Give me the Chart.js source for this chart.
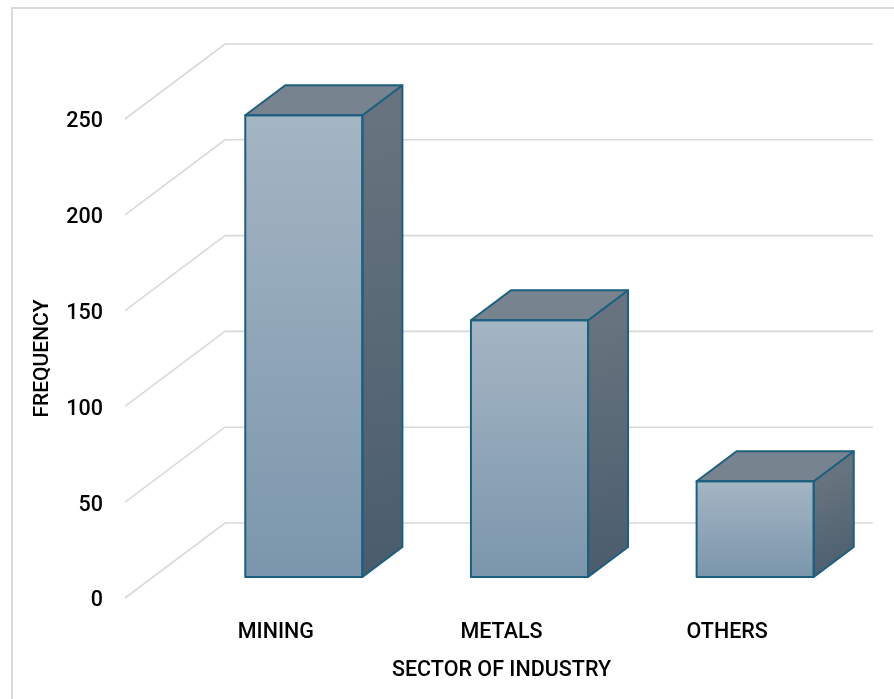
<!DOCTYPE html>
<html>
<head>
<meta charset="utf-8">
<script src="https://cdn.jsdelivr.net/npm/chart.js@4/dist/chart.umd.min.js"></script>
<style>
  html, body { margin: 0; padding: 0; background: #ffffff; overflow: hidden; }
  #wrap { position: relative; width: 894px; height: 699px; }
  #frame { position: absolute; left: 11px; top: 7px; width: 900px; height: 720px;
           border: 2px solid #d9d9d9; box-sizing: border-box; }
  canvas { position: absolute; left: 0; top: 0; }
</style>
</head>
<body>
<div id="wrap">
  <div id="frame"></div>
  <canvas id="c" width="894" height="699"></canvas>
</div>
<script>
// ---- data ----
const categories = ['MINING', 'METALS', 'OTHERS'];
const frequency = [241, 134, 50];
const yTicks = [0, 50, 100, 150, 200, 250];
const xTitle = 'SECTOR OF INDUSTRY';
const yTitle = 'FREQUENCY';

// ---- styling constants (3D look) ----
const FONT = 'Roboto, "Liberation Sans", Arial, sans-serif';
const WALL = { dx: 100, dy: -75, frontInset: 38, color: '#d9d9d9' };
const BARSHIFT = { dx: 28, dy: -21 };
const BARDEPTH = { dx: 40, dy: -30 };
const OUTLINE = '#1d5f7f';

function frontGradient(ctx) {
  const chart = ctx.chart;
  const area = chart.chartArea;
  if (!area) return '#8fa5b8';
  const ys = chart.scales.y;
  const top = ys.getPixelForValue(ctx.raw);
  const bot = ys.getPixelForValue(0);
  const g = chart.ctx.createLinearGradient(0, top, 0, bot);
  g.addColorStop(0, '#a4b5c3');
  g.addColorStop(0.5, '#90a6b8');
  g.addColorStop(1, '#7b96ac');
  return g;
}

const wallPlugin = {
  id: 'wall3d',
  beforeDatasetsDraw(chart) {
    const { ctx, chartArea, scales } = chart;
    const ys = scales.y;
    const xFront = chartArea.left - WALL.frontInset;
    const xBack = xFront + WALL.dx;
    const xRight = chartArea.right + 33;
    ctx.save();
    ctx.strokeStyle = WALL.color;
    ctx.lineWidth = 1.6;
    yTicks.forEach(v => {
      const y = ys.getPixelForValue(v);
      ctx.beginPath();
      ctx.moveTo(xFront, y);
      ctx.lineTo(xBack, y + WALL.dy);
      ctx.lineTo(xRight, y + WALL.dy);
      ctx.stroke();
    });
    ctx.restore();
  },
  beforeDatasetDraw(chart) {
    chart.ctx.save();
    chart.ctx.translate(BARSHIFT.dx, BARSHIFT.dy);
  },
  afterDatasetDraw(chart) {
    chart.ctx.restore();
  },
  afterDatasetsDraw(chart) {
    const { ctx } = chart;
    const meta = chart.getDatasetMeta(0);
    ctx.save();
    ctx.lineJoin = 'round';
    meta.data.forEach(bar => {
      const p = bar.getProps(['x', 'y', 'base', 'width'], true);
      const l = p.x - p.width / 2 + BARSHIFT.dx;
      const r = p.x + p.width / 2 + BARSHIFT.dx;
      const t = p.y + BARSHIFT.dy;
      const b = p.base + BARSHIFT.dy;
      const ddx = BARDEPTH.dx, ddy = BARDEPTH.dy;
      // side face
      const sg = ctx.createLinearGradient(r, t, r + ddx, b);
      sg.addColorStop(0, '#67747f');
      sg.addColorStop(1, '#4a5c6c');
      ctx.beginPath();
      ctx.moveTo(r, t);
      ctx.lineTo(r + ddx, t + ddy);
      ctx.lineTo(r + ddx, b + ddy);
      ctx.lineTo(r, b);
      ctx.closePath();
      ctx.fillStyle = sg;
      ctx.fill();
      ctx.strokeStyle = OUTLINE;
      ctx.lineWidth = 2;
      ctx.stroke();
      // top face
      ctx.beginPath();
      ctx.moveTo(l, t);
      ctx.lineTo(l + ddx, t + ddy);
      ctx.lineTo(r + ddx, t + ddy);
      ctx.lineTo(r, t);
      ctx.closePath();
      ctx.fillStyle = '#77838e';
      ctx.fill();
      ctx.stroke();
      // front outline
      ctx.strokeRect(l, t, r - l, b - t);
    });
    ctx.restore();
  }
};

new Chart(document.getElementById('c'), {
  type: 'bar',
  data: {
    labels: categories,
    datasets: [{
      data: frequency,
      backgroundColor: frontGradient,
      borderWidth: 0,
      barPercentage: 0.519,
      categoryPercentage: 1.0,
      clip: false
    }]
  },
  options: {
    responsive: false,
    animation: false,
    devicePixelRatio: 1,
    layout: { padding: { left: 20, right: 54, top: 119, bottom: 0 } },
    plugins: { legend: { display: false }, tooltip: { enabled: false } },
    scales: {
      x: {
        grid: { display: false, drawTicks: false },
        border: { display: false },
        ticks: { color: '#000', padding: 21.3, font: { family: FONT, size: 21.5, weight: 500 } },
        title: { display: true, text: xTitle, color: '#000', font: { family: FONT, size: 21.5, weight: 500 },
                 padding: { top: 11.1, bottom: 15.8 } },
        afterFit(s) { s.height = 101; }
      },
      y: {
        min: 0, max: 250,
        afterBuildTicks(s) { s.ticks = yTicks.map(v => ({ value: v })); },
        grid: { display: false, drawTicks: false },
        border: { display: false },
        ticks: { color: '#000', padding: 60, labelOffset: 3, font: { family: FONT, size: 21.5, weight: 500 } },
        title: { display: true, text: yTitle, color: '#000', font: { family: FONT, size: 21, weight: 500 },
                 padding: { top: 10.6, bottom: 0 } },
        afterFit(s) { s.width = 143; }
      }
    }
  },
  plugins: [wallPlugin]
});
</script>
</body>
</html>
